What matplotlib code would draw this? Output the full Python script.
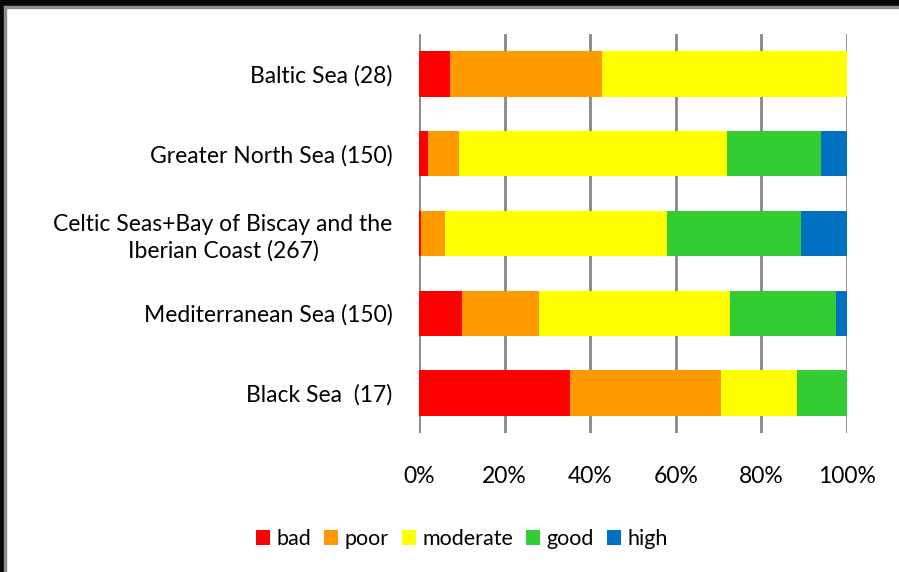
import matplotlib.pyplot as plt
import numpy as np
from matplotlib.patches import Rectangle

plt.rcParams['font.family'] = ['Lato', 'DejaVu Sans']

# sea regions and number of assessed units
regions = [
    "Baltic Sea (28)",
    "Greater North Sea (150)",
    "Celtic Seas+Bay of Biscay and the\nIberian Coast (267)",
    "Mediterranean Sea (150)",
    "Black Sea  (17)",
]

# counts per status class
bad = [2, 3, 1, 15, 6]
poor = [10, 11, 15, 27, 6]
moderate = [16, 94, 139, 67, 3]
good = [0, 33, 83, 37, 2]
high = [0, 9, 29, 4, 0]

classes = ["bad", "poor", "moderate", "good", "high"]
colors = ["#ff0000", "#ff9900", "#ffff00", "#33cc33", "#0070c0"]

counts = np.array([bad, poor, moderate, good, high], dtype=float)
shares = counts / counts.sum(axis=0) * 100

fig = plt.figure(figsize=(8.99, 5.72), dpi=100)
ax = fig.add_axes([419 / 899, 1 - 433 / 572, 428 / 899, 399 / 572])

y = np.arange(len(regions))
left = np.zeros(len(regions))
for name, share, col in zip(classes, shares, colors):
    ax.barh(y, share, left=left, height=0.57, color=col, label=name,
            edgecolor="none", zorder=3)
    left += share

ax.set_xlim(0, 100)
ax.set_ylim(len(regions) - 0.5, -0.5)
ax.set_xticks(np.arange(0, 101, 20))
ax.set_xticklabels([f"{v}%" for v in range(0, 101, 20)])
ax.set_yticks(y)
ax.set_yticklabels(regions, multialignment="center", linespacing=1.3)
ax.xaxis.grid(True, color="#888888", linewidth=2, zorder=1)
ax.tick_params(axis="both", length=0, labelsize=16.5, colors="#000000")
ax.tick_params(axis="x", pad=24)
ax.tick_params(axis="y", pad=19)
for s in ax.spines.values():
    s.set_visible(False)

handles, labels = ax.get_legend_handles_labels()
fig.legend(handles, labels, loc="center", bbox_to_anchor=(462 / 899, 1 - 539 / 572),
           ncol=5, frameon=False, fontsize=15.5, handlelength=0.65, handleheight=0.65,
           handletextpad=0.3, columnspacing=0.6)

# dark frame along the top and left edges
fig.patches.append(Rectangle((0, 1 - 6 / 572), 1, 6 / 572, transform=fig.transFigure,
                             color="#080808", zorder=0))
fig.patches.append(Rectangle((0, 0), 4 / 899, 1, transform=fig.transFigure,
                             color="#080808", zorder=0))
fig.patches.append(Rectangle((4 / 899, 1 - 8 / 572), 1, 2 / 572, transform=fig.transFigure,
                             color="#8c8c8c", zorder=0))
fig.patches.append(Rectangle((4 / 899, 0), 2 / 899, 1 - 6 / 572, transform=fig.transFigure,
                             color="#8c8c8c", zorder=0))

fig.savefig("out.png", dpi=100)
